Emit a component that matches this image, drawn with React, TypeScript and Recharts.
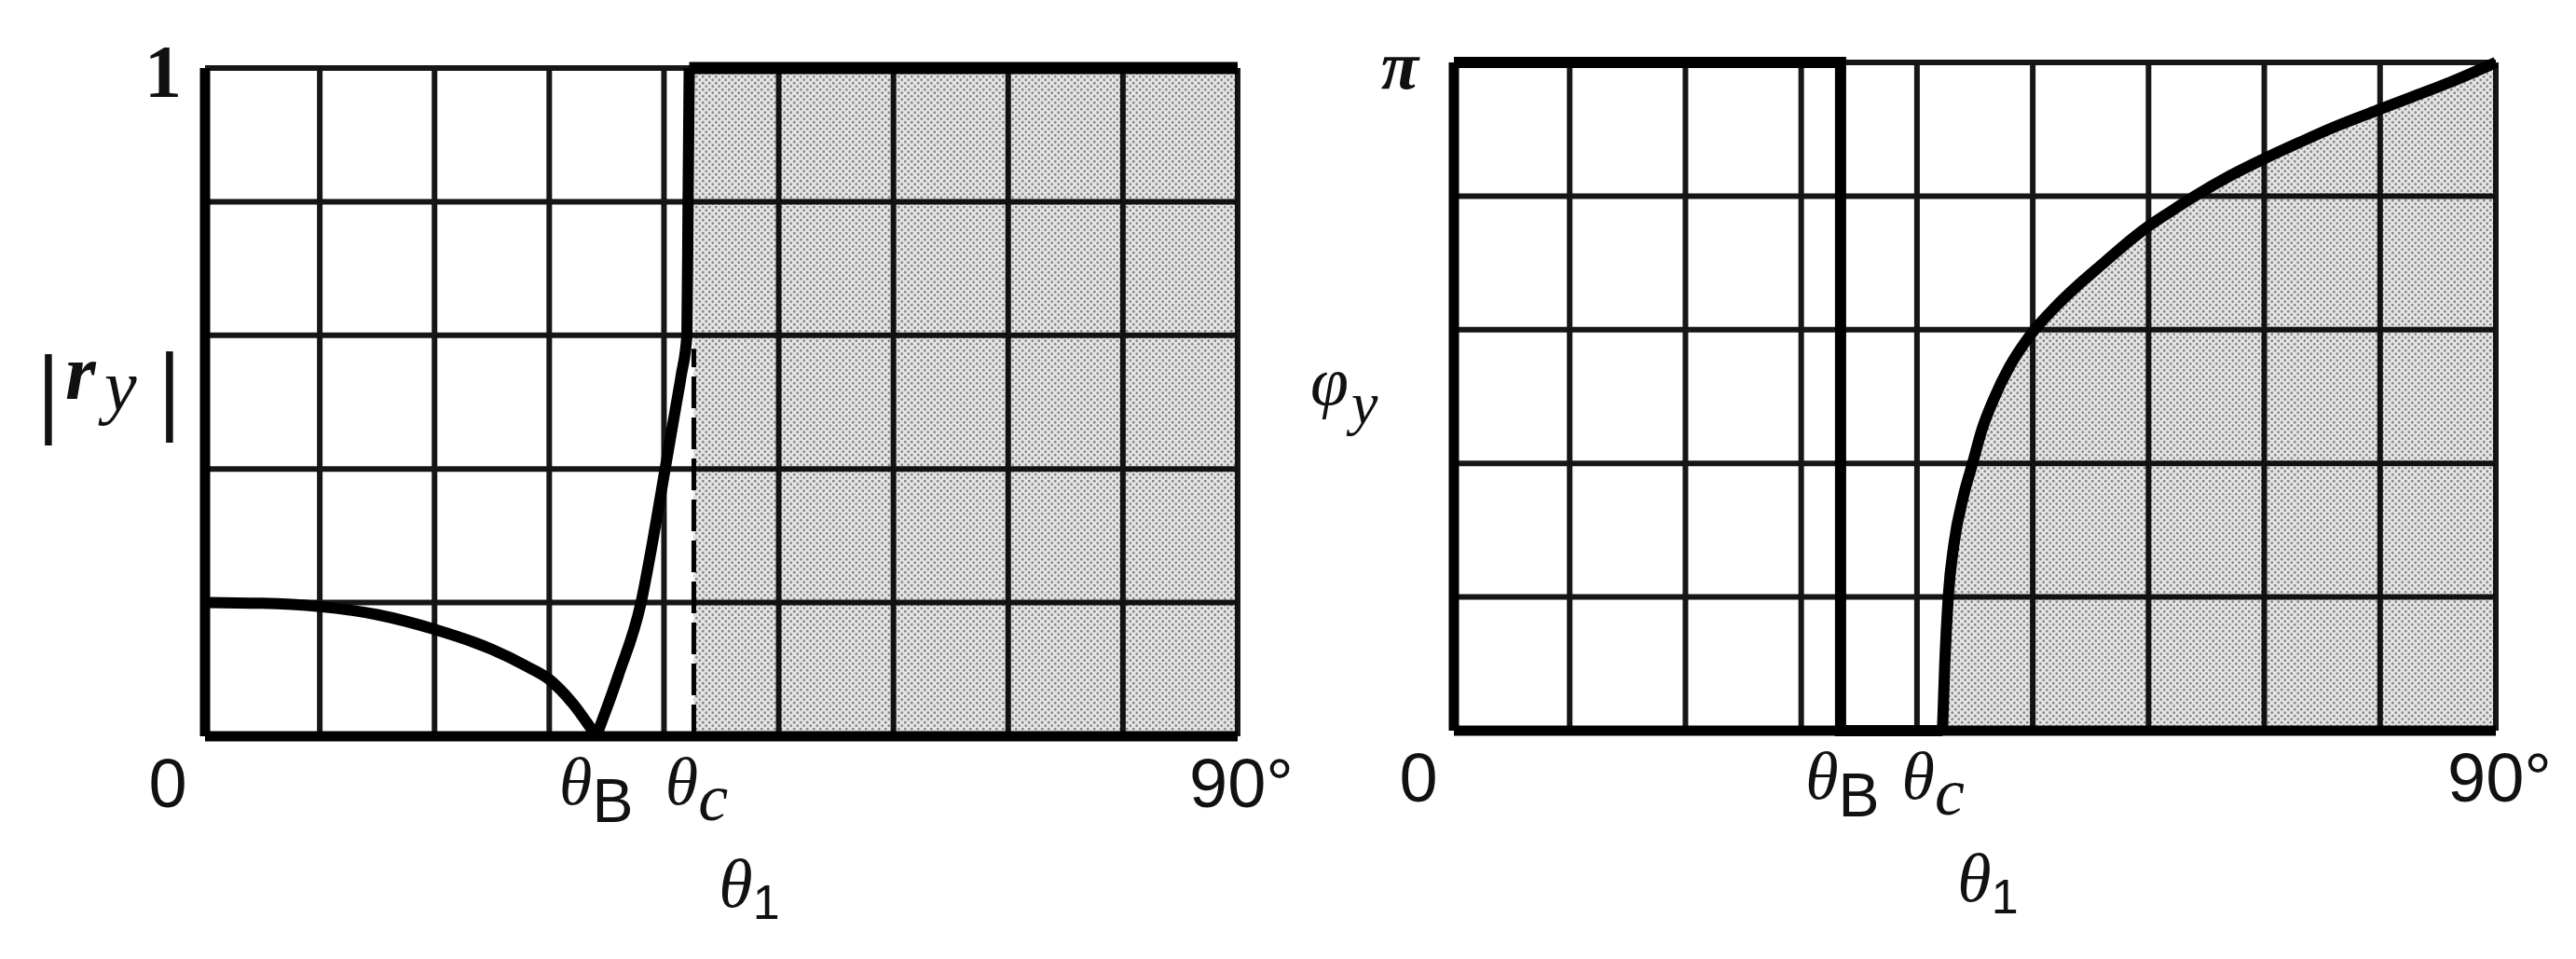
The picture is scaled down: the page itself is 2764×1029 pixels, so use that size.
import React from 'react';
import {
  ComposedChart,
  Line,
  Area,
  XAxis,
  YAxis,
  CartesianGrid,
  ReferenceArea,
  ReferenceLine,
} from 'recharts';

// ---------- data ----------
const gridTicksX = [0, 10, 20, 30, 40, 50, 60, 70, 80, 90];
const gridTicksY = [0, 0.2, 0.4, 0.6, 0.8, 1];

// left panel |r_y|
const thetaBLeft = 34.1;
const thetaCLeft = 42.2;
const shadeStartLeft = 42.6;
const rDescTheta = [0, 5, 10, 15, 20, 25, 28, 30, 32, 34.1];
const rDescValue = [0.2, 0.199, 0.194, 0.182, 0.16, 0.13, 0.105, 0.085, 0.05, 0];
const rAscTheta = [34.1, 36, 38, 39, 40, 40.5, 41, 41.5, 42, 42.1, 42.2];
const rAscValue = [0, 0.09, 0.2, 0.29, 0.39, 0.44, 0.49, 0.54, 0.6, 0.8, 1];
const rTotalTheta = [42.2, 90];
const rTotalValue = [1, 1];
const dashTop = 0.58;

// right panel phi_y (in units of pi)
const thetaBRight = 33.4;
const thetaCRight = 42.2;
const phiStepTheta = [0, 33.4, 33.4, 42.2];
const phiStepValue = [1, 1, 0, 0];
const phiTirTheta = [42.2, 42.4, 42.7, 43.2, 44, 44.8, 45.6, 46.6, 48, 49.7, 52, 54, 56, 58, 60, 62, 64, 67, 70, 73, 76, 80, 83, 86, 90];
const phiTirValue = [0, 0.1, 0.2, 0.28, 0.35, 0.4, 0.45, 0.495, 0.545, 0.59, 0.635, 0.668, 0.698, 0.728, 0.755, 0.778, 0.8, 0.83, 0.856, 0.88, 0.903, 0.93, 0.95, 0.97, 1.0];

const zip = (xs: number[], ys: number[]) => xs.map((t, i) => ({ t, v: ys[i] }));

const rDesc = zip(rDescTheta, rDescValue);
const rAsc = zip(rAscTheta, rAscValue);
const rTotal = zip(rTotalTheta, rTotalValue);
const phiStep = zip(phiStepTheta, phiStepValue);
const phiTir = zip(phiTirTheta, phiTirValue);

// ---------- styling ----------
const SERIF = '"Liberation Serif", "DejaVu Serif", serif';
const SANS = '"Liberation Sans", Arial, sans-serif';
const INK = '#111';
const GRID = '#161616';
const CURVE_W = 12;

const Stipple = ({ id }: { id: string }) => (
  <defs>
    <pattern id={id} width="7" height="7" patternUnits="userSpaceOnUse">
      <rect width="7" height="7" fill="rgba(0,0,0,0.1)" />
      <circle cx="1.75" cy="1.75" r="1.4" fill="rgba(0,0,0,0.4)" />
      <circle cx="5.25" cy="5.25" r="1.4" fill="rgba(0,0,0,0.4)" />
    </pattern>
  </defs>
);

const makeXTick = (zeroShift: number) => (props: any) => {
  const { x, y, payload } = props;
  const v = payload?.value;
  if (v === 0)
    return (
      <text x={x + zeroShift} y={y + 74} textAnchor="middle" fontFamily={SANS} fontSize={74} fill={INK}>
        0
      </text>
    );
  if (v === 90)
    return (
      <text x={x + 4} y={y + 74} textAnchor="middle" fontFamily={SANS} fontSize={74} fill={INK}>
        90°
      </text>
    );
  return <g />;
};

const YTickLeft = (props: any) => {
  const { x, y, payload } = props;
  if (payload?.value !== 1) return <g />;
  return (
    <text x={x - 43} y={y + 31} textAnchor="middle" fontFamily={SERIF} fontWeight="bold" fontSize={80} fill={INK}>
      1
    </text>
  );
};

const YTickRight = (props: any) => {
  const { x, y, payload } = props;
  if (payload?.value !== 1) return <g />;
  return (
    <text x={x - 56} y={y + 28} textAnchor="middle" fontFamily={SERIF} fontStyle="italic" fontWeight="bold" fontSize={74} fill={INK}>
      π
    </text>
  );
};

const ThetaSubLabel = (props: any) => {
  const { viewBox, sub, shift = 0, italicSub = false } = props;
  if (!viewBox) return null;
  const cx = viewBox.x + shift;
  const base = viewBox.y + viewBox.height + 73;
  return (
    <text x={cx} y={base} textAnchor="middle" fill={INK}>
      <tspan fontFamily={SERIF} fontStyle="italic" fontSize={72}>θ</tspan>
      {italicSub ? (
        <tspan fontFamily={SERIF} fontStyle="italic" fontSize={72} dy={17}>{sub}</tspan>
      ) : (
        <tspan fontFamily={SANS} fontSize={66} dy={19}>{sub}</tspan>
      )}
    </text>
  );
};

const ThetaOneLabel = (props: any) => {
  const { viewBox, shift = 0 } = props;
  if (!viewBox) return null;
  const cx = viewBox.x + viewBox.width / 2 + shift;
  const base = viewBox.y + 183;
  return (
    <text x={cx} y={base} textAnchor="middle" fill={INK}>
      <tspan fontFamily={SERIF} fontStyle="italic" fontSize={74}>θ</tspan>
      <tspan fontFamily={SANS} fontSize={52} dy={13}>1</tspan>
    </text>
  );
};

const RyLabel = (props: any) => {
  const { viewBox } = props;
  if (!viewBox) return null;
  const x0 = viewBox.x;
  return (
    <text fill={INK}>
      <tspan x={x0 + 20} y={455} fontFamily={SERIF} fontWeight="bold" fontSize={108}>|</tspan>
      <tspan x={x0 + 50} y={428} fontFamily={SERIF} fontStyle="italic" fontWeight="bold" fontSize={84}>r</tspan>
      <tspan x={x0 + 92} y={440} fontFamily={SERIF} fontStyle="italic" fontSize={78}>y</tspan>
      <tspan x={x0 + 150} y={452} fontFamily={SERIF} fontWeight="bold" fontSize={108}>|</tspan>
    </text>
  );
};

const PhiLabel = (props: any) => {
  const { viewBox } = props;
  if (!viewBox) return null;
  const x0 = viewBox.x;
  return (
    <text fill={INK}>
      <tspan x={x0 + 6} y={434} fontFamily={SERIF} fontStyle="italic" fontSize={74}>φ</tspan>
      <tspan x={x0 + 50} y={454} fontFamily={SERIF} fontStyle="italic" fontSize={64}>y</tspan>
    </text>
  );
};

const axisStyle = { stroke: '#000', strokeWidth: 11 };

const LeftPanel = () => (
  <ComposedChart width={1400} height={1029} margin={{ top: 73, right: 72, bottom: 0, left: 20 }}>
    <Stipple id="stippleLeft" />
    <CartesianGrid stroke={GRID} strokeWidth={6} />
    <ReferenceArea x1={shadeStartLeft} x2={90} y1={0} y2={1} fill="url(#stippleLeft)" fillOpacity={1} stroke="none" />
    <XAxis
      type="number"
      dataKey="t"
      domain={[0, 90]}
      ticks={gridTicksX}
      interval={0}
      height={239}
      axisLine={axisStyle}
      tickLine={false}
      tickSize={0}
      tick={makeXTick(-40)}
      label={<ThetaOneLabel shift={30} />}
    />
    <YAxis
      type="number"
      domain={[0, 1]}
      ticks={gridTicksY}
      interval={0}
      width={200}
      axisLine={axisStyle}
      tickLine={false}
      tickSize={0}
      tick={YTickLeft}
      label={<RyLabel />}
    />
    <ReferenceLine
      segment={[{ x: shadeStartLeft, y: 0 }, { x: shadeStartLeft, y: dashTop }]}
      stroke="#000"
      strokeWidth={5}
      strokeDasharray="34 10"
    />
    <Line data={rDesc} dataKey="v" type="monotone" stroke="#000" strokeWidth={CURVE_W} dot={false} activeDot={false} isAnimationActive={false} />
    <Line data={rAsc} dataKey="v" type="monotone" stroke="#000" strokeWidth={CURVE_W} dot={false} activeDot={false} isAnimationActive={false} />
    <Line data={rTotal} dataKey="v" type="linear" stroke="#000" strokeWidth={13} dot={false} activeDot={false} isAnimationActive={false} />
    <ReferenceLine x={thetaBLeft} stroke="none" label={<ThetaSubLabel sub="B" shift={0} />} />
    <ReferenceLine x={thetaCLeft} stroke="none" label={<ThetaSubLabel sub="c" italicSub shift={8} />} />
  </ComposedChart>
);

const RightPanel = () => (
  <ComposedChart width={1364} height={1029} margin={{ top: 67, right: 86, bottom: 0, left: 0 }}>
    <Stipple id="stippleRight" />
    <CartesianGrid stroke={GRID} strokeWidth={6} />
    <XAxis
      type="number"
      dataKey="t"
      domain={[0, 90]}
      ticks={gridTicksX}
      interval={0}
      height={245}
      axisLine={axisStyle}
      tickLine={false}
      tickSize={0}
      tick={makeXTick(-38)}
      label={<ThetaOneLabel shift={14} />}
    />
    <YAxis
      type="number"
      domain={[0, 1]}
      ticks={gridTicksY}
      interval={0}
      width={160}
      axisLine={axisStyle}
      tickLine={false}
      tickSize={0}
      tick={YTickRight}
      label={<PhiLabel />}
    />
    <Area
      data={phiTir}
      dataKey="v"
      type="monotone"
      stroke="#000"
      strokeWidth={CURVE_W}
      fill="url(#stippleRight)"
      fillOpacity={1}
      dot={false}
      activeDot={false}
      isAnimationActive={false}
    />
    <Line data={phiStep} dataKey="v" type="linear" stroke="#000" strokeWidth={CURVE_W} dot={false} activeDot={false} isAnimationActive={false} />
    <ReferenceLine x={thetaBRight} stroke="none" label={<ThetaSubLabel sub="B" shift={2} />} />
    <ReferenceLine x={thetaCRight} stroke="none" label={<ThetaSubLabel sub="c" italicSub shift={-10} />} />
  </ComposedChart>
);

export default function App() {
  return (
    <div style={{ position: 'absolute', left: 0, top: 0, width: 2764, height: 1029, background: '#fff' }}>
      <div style={{ position: 'absolute', left: 0, top: 0 }}>
        <LeftPanel />
      </div>
      <div style={{ position: 'absolute', left: 1400, top: 0 }}>
        <RightPanel />
      </div>
    </div>
  );
}
